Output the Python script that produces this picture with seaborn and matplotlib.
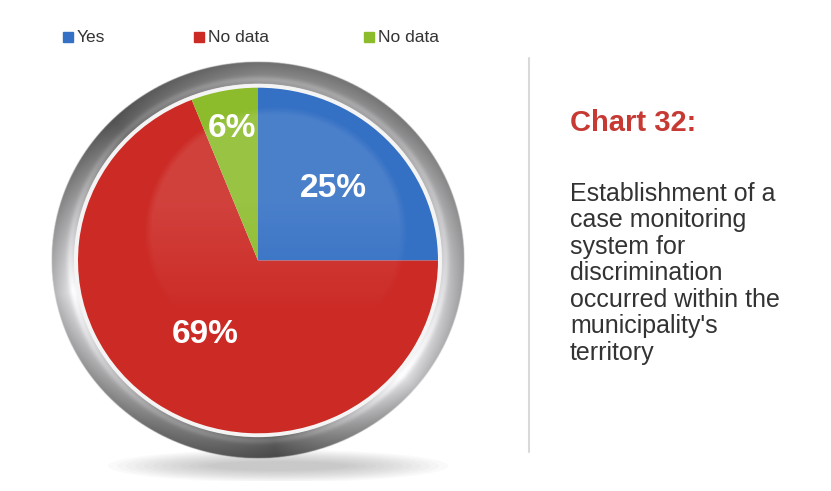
import numpy as np
import matplotlib
matplotlib.use("Agg")
import matplotlib.pyplot as plt
import seaborn as sns
from matplotlib.patches import Rectangle, Ellipse, Circle
from matplotlib.lines import Line2D

# data
labels = ["Yes", "No data", "No data"]
shares = [25, 69, 6]
colors = ["#3470c4", "#cc2a25", "#8cbc2c"]

title = "Chart 32:"
subtitle = ("Establishment of a\ncase monitoring\nsystem for\ndiscrimination\n"
            "occurred within the\nmunicipality's\nterritory")

sns.set_theme(style="white")
plt.rcParams['font.family'] = ['Liberation Sans', 'DejaVu Sans']

W, H = 831, 491
fig = plt.figure(figsize=(W / 100, H / 100), dpi=100)
fig.patch.set_facecolor("white")


def px(x, y):
    # pixel (from top-left) -> figure fraction
    return x / W, 1 - y / H


# pie axes, slightly squashed vertically like the original
cx, cy, half = 258, 260.5, 230
squash = 0.96
ax = fig.add_axes([(cx - half) / W, (H - cy - half * squash) / H,
                   2 * half / W, 2 * half * squash / H])

R = 180

# soft shadow under the ring
for i in range(12):
    ax.add_patch(Ellipse((20, -214), 340 - i * 18, 34 - i * 2.2,
                         color="#666666", alpha=0.03, lw=0, zorder=0))

# metal ring as an image
n = 700
g = np.linspace(-half, half, n)
X, Y = np.meshgrid(g, g)
r = np.hypot(X, Y)
th = np.degrees(np.arctan2(Y, X)) % 360
r_in, r_out = 184, 206
t = np.clip((r - r_in) / (r_out - r_in), 0, 1)
key_ang = [0, 45, 90, 135, 190, 240, 275, 320, 360]
key_val = [0.80, 0.62, 0.58, 0.42, 0.96, 0.55, 0.38, 0.97, 0.80]
ang = np.interp(th, key_ang, key_val)
shade = ang * (1.0 - 0.25 * t) + 0.08 * np.exp(-((t - 0.2) / 0.15) ** 2)
shade = np.clip(shade, 0.2, 0.99)
img = np.zeros((n, n, 4))
img[..., 0] = shade
img[..., 1] = shade
img[..., 2] = np.clip(shade * 1.01, 0, 1)
img[..., 3] = np.clip((r_out + 1 - r), 0, 1) * np.clip((r - r_in + 1), 0, 1)
ax.imshow(img, extent=(-half, half, -half, half), origin="lower",
          aspect="auto", zorder=1, interpolation="bilinear")

# thin white rim between pie and metal
ax.add_patch(Circle((0, 0), 184, color="#f4f4f4", lw=0, zorder=2))

wedges, _ = ax.pie(shares, colors=colors, startangle=90, counterclock=False,
                   radius=R, center=(0, 0), wedgeprops=dict(linewidth=0))
for w in wedges:
    w.set_zorder(3)

# glossy highlight inside the pie
hl = np.zeros((n, n, 4))
hr = np.hypot(X - 18, Y - 28)
hl[..., :3] = 1.0
hl[..., 3] = 0.11 * np.clip((132 - hr) / 8, 0, 1) * np.clip((Y + 60) / 120, 0, 1)
hl[..., 3] *= (r < R)
ax.imshow(hl, extent=(-half, half, -half, half), origin="lower",
          aspect="auto", zorder=4, interpolation="bilinear")

# percentage labels
label_dist = [0.59, 0.52, 0.78]
for w, val, d in zip(wedges, shares, label_dist):
    mid = np.deg2rad((w.theta1 + w.theta2) / 2)
    ax.text(d * R * np.cos(mid), d * R * np.sin(mid), f"{val}%",
            ha="center", va="center", color="white", fontsize=24,
            fontweight="bold", zorder=5)

ax.set_aspect("auto")
ax.set_xlim(-half, half)
ax.set_ylim(-half, half)
ax.axis("off")

# legend across the top
legend_x = [63, 194, 364]
for lab, col, lx in zip(labels, colors, legend_x):
    x0, y0 = px(lx, 42)
    fig.patches.append(Rectangle((x0, y0), 10 / W, 10 / H, color=col,
                                 transform=fig.transFigure, figure=fig))
    tx, ty = px(lx + 14, 37)
    fig.text(tx, ty, lab, fontsize=12.5, color="#333333", va="center",
             ha="left")

# divider
x1, y1 = px(529, 58)
_, y2 = px(529, 452)
fig.add_artist(Line2D([x1, x1], [y1, y2], color="#d9d9d9", lw=1.5))

# side text
tx, ty = px(570, 131)
fig.text(tx, ty, title, fontsize=21, fontweight="bold", color="#c63a33",
         va="baseline", ha="left")
tx, ty = px(570, 182)
fig.text(tx, ty, subtitle, fontsize=18, color="#333333", va="top",
         ha="left", linespacing=1.13)

fig.savefig("out.png", dpi=100)
